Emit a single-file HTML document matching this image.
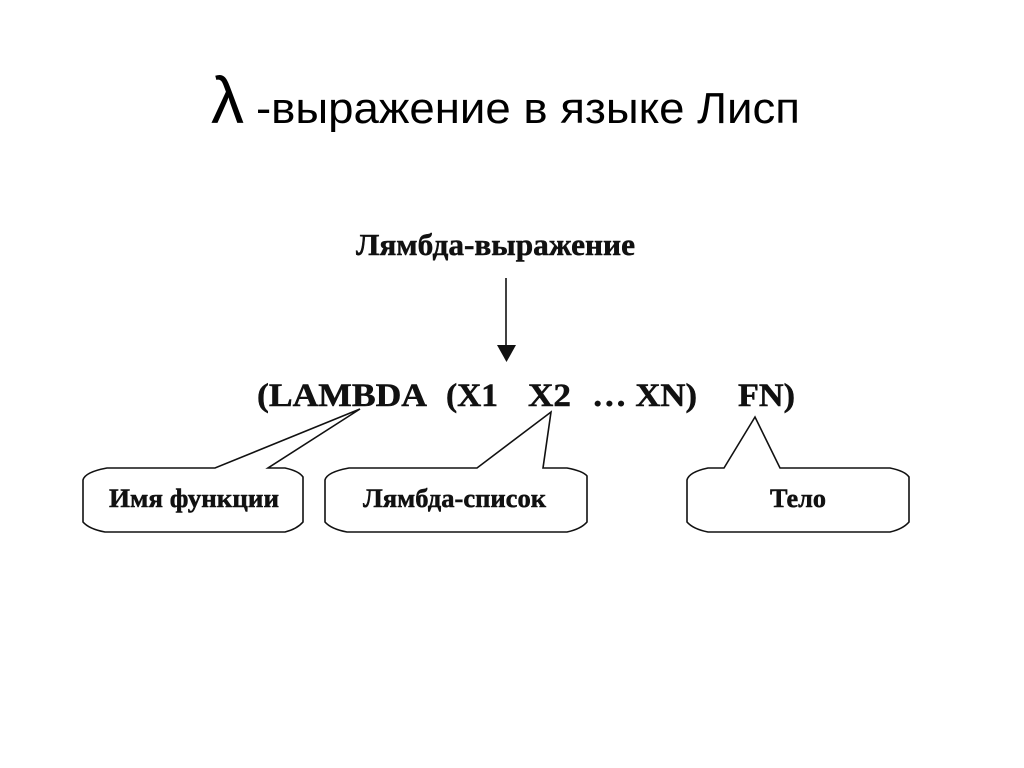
<!DOCTYPE html>
<html lang="ru">
<head>
<meta charset="utf-8">
<title>λ-выражение в языке Лисп</title>
<style>
html,body{margin:0;padding:0;background:#fff;width:1024px;height:768px;overflow:hidden}
svg{display:block}
</style>
</head>
<body>
<svg width="1024" height="768" viewBox="0 0 1024 768" xmlns="http://www.w3.org/2000/svg">
<rect width="1024" height="768" fill="#fff"/>
<text x="211" y="123" font-family="'Liberation Sans',sans-serif" font-size="66" fill="#000">λ</text>
<text x="256" y="123" font-family="'Liberation Sans',sans-serif" font-size="44" fill="#000" textLength="544" lengthAdjust="spacingAndGlyphs">-выражение в языке Лисп</text>

<g font-family="'Liberation Serif',serif" font-weight="bold" fill="#111" stroke="#111" stroke-width="0.5">
<text x="356" y="255" font-size="31" textLength="279" lengthAdjust="spacingAndGlyphs">Лямбда-выражение</text>
<text x="257" y="406" font-size="33" textLength="170" lengthAdjust="spacingAndGlyphs">(LAMBDA</text>
<text x="446" y="406" font-size="33" textLength="52" lengthAdjust="spacingAndGlyphs">(X1</text>
<text x="528" y="406" font-size="33" textLength="43" lengthAdjust="spacingAndGlyphs">X2</text>
<text x="592" y="406" font-size="33" textLength="105" lengthAdjust="spacingAndGlyphs">… XN)</text>
<text x="738" y="406" font-size="33" textLength="57" lengthAdjust="spacingAndGlyphs">FN)</text>
<text x="109" y="507" font-size="26" textLength="170" lengthAdjust="spacingAndGlyphs">Имя функции</text>
<text x="363" y="507" font-size="26" textLength="183" lengthAdjust="spacingAndGlyphs">Лямбда-список</text>
<text x="770" y="507" font-size="26" textLength="56" lengthAdjust="spacingAndGlyphs">Тело</text>
</g>

<g fill="none" stroke="#111" stroke-width="1.6" stroke-linejoin="miter">
<line x1="506" y1="278" x2="506" y2="348"/>
<path d="M83 480 Q85 472 107 468 L215 468 L360 409 L268 468 L285 468 Q299 471 303 477 L303 522 Q297 529 285 532 L105 532 Q89 529 83 522 Z"/>
<path d="M325 480 Q327 472 349 468 L477 468 L551 412 L543 468 L567 468 Q583 471 587 476 L587 522 Q581 529 567 532 L347 532 Q331 529 325 522 Z"/>
<path d="M687 480 Q689 472 708 468 L724 468 L755 417 L780 468 L890 468 Q905 471 909 477 L909 522 Q903 529 890 532 L708 532 Q693 529 687 522 Z"/>
</g>
<polygon points="497,345 516,345 506.5,362" fill="#111"/>
</svg>
</body>
</html>
